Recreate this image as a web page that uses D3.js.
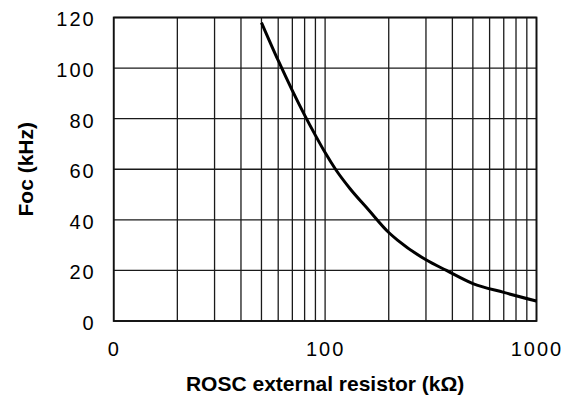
<!DOCTYPE html>
<html>
<head>
<meta charset="utf-8">
<script src="https://cdn.jsdelivr.net/npm/d3@7/dist/d3.min.js"></script>
<style>
  html, body { margin: 0; padding: 0; background: #fff; }
  svg { display: block; }
  text { font-family: "Liberation Sans", Arial, Helvetica, sans-serif; fill: #000; }
</style>
</head>
<body>
<svg id="chart" width="572" height="401"></svg>
<script>
// ---- data ----
const resistorKOhm = [50, 60, 70, 80, 90, 100, 112, 131, 160, 200, 220, 300, 375, 500, 700, 1000];
const frequencyKHz = [118, 103, 91.1, 81.4, 73.4, 66.6, 60, 52.4, 44.1, 35, 32, 24.2, 20, 14.8, 11.3, 7.9];
const xTickValues = [10, 100, 1000];
const xTickLabels = ["0", "100", "1000"];
const xGridValues = [10, 20, 30, 40, 50, 60, 70, 80, 90, 100, 200, 300, 400, 500, 600, 700, 800, 900, 1000];
const yTickValues = [0, 20, 40, 60, 80, 100, 120];
const xTitle = "ROSC external resistor (kΩ)";
const yTitle = "Foc (kHz)";

// ---- layout ----
const W = 572, H = 401;
const margin = { left: 113.7, right: W - 536.5, top: 17.5, bottom: H - 321 };
const svg = d3.select("#chart");
const iw = W - margin.left - margin.right;
const ih = H - margin.top - margin.bottom;
const g = svg.append("g").attr("transform", `translate(${margin.left},${margin.top})`);

const x = d3.scaleLog().domain([10, 1000]).range([0, iw]);
const y = d3.scaleLinear().domain([0, 120]).range([ih, 0]);

// grid
g.append("g").selectAll("line").data(xGridValues).join("line")
  .attr("x1", d => x(d)).attr("x2", d => x(d))
  .attr("y1", 0).attr("y2", ih)
  .attr("stroke", "#1a1a1a").attr("stroke-width", 1.3);
g.append("g").selectAll("line").data(yTickValues).join("line")
  .attr("x1", 0).attr("x2", iw)
  .attr("y1", d => y(d)).attr("y2", d => y(d))
  .attr("stroke", "#1a1a1a").attr("stroke-width", 1.3);

// frame
g.append("rect").attr("x", 0).attr("y", 0).attr("width", iw).attr("height", ih)
  .attr("fill", "none").attr("stroke", "#111").attr("stroke-width", 1.8);

// axes (labels only)
const xAxis = g.append("g").attr("transform", `translate(0,${ih})`)
  .call(d3.axisBottom(x).tickValues(xTickValues)
    .tickFormat((d, i) => xTickLabels[i]).tickSize(0).tickPadding(21));
xAxis.select(".domain").remove();
xAxis.selectAll("text").attr("font-size", 20).attr("letter-spacing", "2px")
  .attr("font-family", "Liberation Sans, Arial, sans-serif").attr("fill", "#000");

const yAxis = g.append("g")
  .call(d3.axisLeft(y).tickValues(yTickValues).tickSize(0).tickPadding(18));
yAxis.select(".domain").remove();
yAxis.selectAll("text").attr("font-size", 20).attr("letter-spacing", "2px")
  .attr("dy", "0.42em")
  .attr("font-family", "Liberation Sans, Arial, sans-serif").attr("fill", "#000");

// curve
const pts = resistorKOhm.map((r, i) => [r, frequencyKHz[i]]);
g.append("path").datum(pts)
  .attr("fill", "none").attr("stroke", "#000").attr("stroke-width", 3)
  .attr("stroke-linejoin", "round").attr("stroke-linecap", "butt")
  .attr("d", d3.line().x(d => x(d[0])).y(d => y(d[1])).curve(d3.curveMonotoneX));

// titles
svg.append("text").attr("x", margin.left + iw / 2).attr("y", 391)
  .attr("text-anchor", "middle").attr("font-size", 21).attr("font-weight", "bold")
  .text(xTitle);
svg.append("text")
  .attr("transform", `translate(32.5,${margin.top + ih / 2}) rotate(-90)`)
  .attr("text-anchor", "middle").attr("font-size", 21).attr("font-weight", "bold")
  .text(yTitle);
</script>
</body>
</html>
